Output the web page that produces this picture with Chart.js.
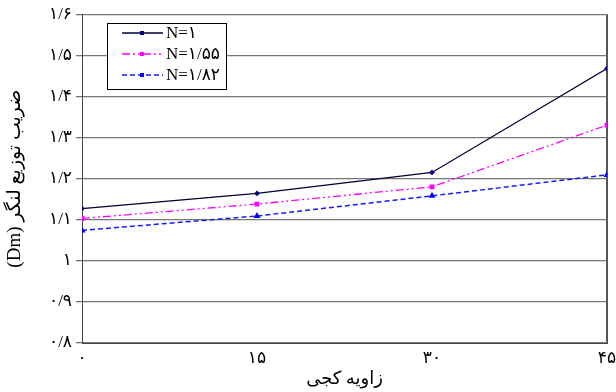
<!DOCTYPE html>
<html>
<head>
<meta charset="utf-8">
<script src="https://cdn.jsdelivr.net/npm/chart.js@4/dist/chart.umd.min.js"></script>
<style>
  html, body { margin: 0; padding: 0; background: #fff; }
  #wrap { width: 616px; height: 392px; }
</style>
</head>
<body>
<div id="wrap"><canvas id="chart" width="616" height="392"></canvas></div>
<script>
const angles = [0, 15, 30, 45];
const seriesN1 = [1.127, 1.164, 1.215, 1.468];
const seriesN155 = [1.103, 1.138, 1.180, 1.330];
const seriesN182 = [1.074, 1.109, 1.158, 1.209];
const legendLabels = ["N=۱", "N=۱/۵۵", "N=۱/۸۲"];
const xTickLabels = { 0: "۰", 15: "۱۵", 30: "۳۰", 45: "۴۵" };
const yTickLabels = ["۰/۸", "۰/۹", "۱", "۱/۱", "۱/۲", "۱/۳", "۱/۴", "۱/۵", "۱/۶"];

const FONT = "'Liberation Serif', 'DejaVu Serif', 'DejaVu Sans', serif";

function points(values) {
  return values.map((v, i) => ({ x: angles[i], y: v }));
}

// legend drawn inside the plot, like the original
const boxLegend = {
  id: "boxLegend",
  afterDraw(chart) {
    const ctx = chart.ctx;
    const x0 = 107, y0 = 23, w = 119, h = 66;
    ctx.save();
    ctx.fillStyle = "#fff";
    ctx.fillRect(x0, y0, w, h);
    ctx.strokeStyle = "#000";
    ctx.lineWidth = 1;
    ctx.strokeRect(x0 + 0.5, y0 + 0.5, w, h);
    const rows = [33, 54, 75];
    chart.data.datasets.forEach((ds, i) => {
      const y = rows[i];
      ctx.strokeStyle = ds.borderColor;
      ctx.lineWidth = ds.borderWidth;
      ctx.setLineDash(ds.borderDash || []);
      ctx.beginPath();
      ctx.moveTo(122, y);
      ctx.lineTo(163, y);
      ctx.stroke();
      ctx.setLineDash([]);
      ctx.fillStyle = ds.pointBackgroundColor;
      ctx.fillRect(140, y - 2, 4, 4);
      ctx.fillStyle = "#000";
      ctx.font = "17px " + FONT;
      ctx.textBaseline = "middle";
      ctx.textAlign = "left";
      ctx.fillText(legendLabels[i], 166, y + 1);
    });
    ctx.restore();
  }
};

new Chart(document.getElementById("chart"), {
  type: "line",
  data: {
    datasets: [
      {
        label: legendLabels[0],
        data: points(seriesN1),
        borderColor: "#000033",
        backgroundColor: "#000033",
        pointBackgroundColor: "#000080",
        pointBorderColor: "#000080",
        borderWidth: 1.3,
        pointStyle: "rectRot",
        pointRadius: 2,
        tension: 0
      },
      {
        label: legendLabels[1],
        data: points(seriesN155),
        borderColor: "#ff00ff",
        backgroundColor: "#ff00ff",
        pointBackgroundColor: "#ff00ff",
        pointBorderColor: "#ff00ff",
        borderWidth: 1.3,
        borderDash: [8, 3, 2, 3, 2, 3],
        pointStyle: "rect",
        pointRadius: 2.5,
        tension: 0
      },
      {
        label: legendLabels[2],
        data: points(seriesN182),
        borderColor: "#1a1aff",
        backgroundColor: "#1a1aff",
        pointBackgroundColor: "#0000ff",
        pointBorderColor: "#0000ff",
        borderWidth: 1.5,
        borderDash: [5, 3],
        pointStyle: "triangle",
        pointRadius: 2.5,
        tension: 0
      }
    ]
  },
  options: {
    responsive: false,
    animation: false,
    layout: { padding: { top: 14, right: 9, left: 0, bottom: 0 } },
    plugins: {
      legend: { display: false },
      tooltip: { enabled: false }
    },
    scales: {
      x: {
        type: "linear",
        min: 0,
        max: 45,
        afterFit(scale) {
          scale.height = 49;
          scale.paddingLeft = 0;
          scale.paddingRight = 0;
        },
        border: { color: "#444", width: 1 },
        grid: {
          color: ctx => ctx.tick && ctx.tick.value === 45 ? "#555" : "rgba(0,0,0,0)",
          lineWidth: ctx => ctx.tick && ctx.tick.value === 45 ? 2 : 1,
          drawTicks: false
        },
        ticks: {
          stepSize: 15,
          padding: 5,
          color: "#000",
          font: { family: FONT, size: 17 },
          callback: v => xTickLabels[v] ?? ""
        },
        title: {
          display: true,
          text: "زاویه کجی",
          color: "#000",
          font: { family: FONT, size: 18 },
          padding: { top: 0, bottom: 2 }
        }
      },
      y: {
        min: 0.8,
        max: 1.6,
        afterFit(scale) { scale.width = 82; },
        border: { color: "#444", width: 1 },
        grid: {
          color: "#777",
          lineWidth: 1.3,
          tickLength: 6
        },
        ticks: {
          stepSize: 0.1,
          padding: 4,
          color: "#000",
          font: { family: FONT, size: 17 },
          callback: (v, i) => yTickLabels[i] ?? ""
        },
        title: {
          display: true,
          text: "(Dm) ضریب توزیع لنگر",
          color: "#000",
          font: { family: FONT, size: 19 },
          padding: { top: 4, bottom: 0 }
        }
      }
    }
  },
  plugins: [boxLegend]
});
</script>
</body>
</html>
